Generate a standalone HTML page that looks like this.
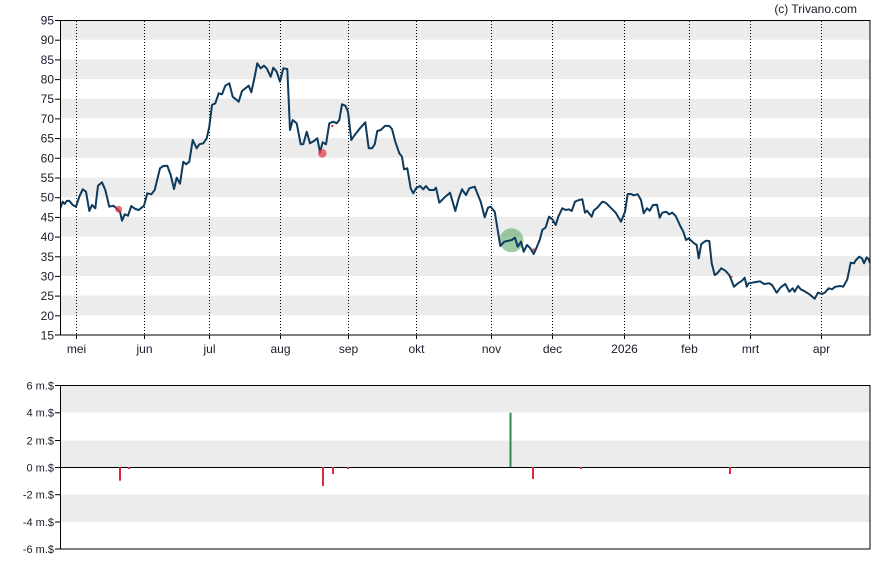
<!DOCTYPE html>
<html><head><meta charset="utf-8"><style>
html,body{margin:0;padding:0;background:#fff;}
svg{display:block;}
text{font-family:"Liberation Sans",Arial,sans-serif;fill:#1a1a2a;}
</style></head><body>
<svg width="888" height="565" viewBox="0 0 888 565" xmlns="http://www.w3.org/2000/svg">
<defs><clipPath id="pc"><rect x="60" y="20" width="810" height="315"/></clipPath></defs>
<text x="857" y="13" font-size="12" text-anchor="end">(c) Trivano.com</text>
<!-- main bands -->
<g fill="#ececec">
<rect x="60" y="20" width="810" height="19.7"/>
<rect x="60" y="59.4" width="810" height="19.7"/>
<rect x="60" y="98.75" width="810" height="19.7"/>
<rect x="60" y="138.1" width="810" height="19.7"/>
<rect x="60" y="177.5" width="810" height="19.7"/>
<rect x="60" y="216.9" width="810" height="19.7"/>
<rect x="60" y="256.25" width="810" height="19.7"/>
<rect x="60" y="295.6" width="810" height="19.7"/>
</g>
<!-- dotted month lines -->
<g stroke="#000" stroke-width="1" stroke-dasharray="1 2">
<line x1="76.5" y1="21" x2="76.5" y2="335"/>
<line x1="144.5" y1="21" x2="144.5" y2="335"/>
<line x1="209.5" y1="21" x2="209.5" y2="335"/>
<line x1="280.5" y1="21" x2="280.5" y2="335"/>
<line x1="348.5" y1="21" x2="348.5" y2="335"/>
<line x1="416.5" y1="21" x2="416.5" y2="335"/>
<line x1="491.5" y1="21" x2="491.5" y2="335"/>
<line x1="552.5" y1="21" x2="552.5" y2="335"/>
<line x1="624.5" y1="21" x2="624.5" y2="335"/>
<line x1="689.5" y1="21" x2="689.5" y2="335"/>
<line x1="750.5" y1="21" x2="750.5" y2="335"/>
<line x1="821.5" y1="21" x2="821.5" y2="335"/>
</g>
<!-- green circle -->
<circle cx="511.5" cy="240.3" r="12" fill="#3c9a4e" fill-opacity="0.5"/>
<!-- price line -->
<polyline clip-path="url(#pc)" fill="none" stroke="#0e3a5c" stroke-width="2" stroke-linejoin="round" points="60,209 62.7,201.7 64.7,204 66.7,201 69.3,200.7 72.7,205 76,206.7 79.3,196.7 82.7,189.3 86,191.7 89.3,211 92,205 95.3,208.3 98,185.7 102,182.3 105.3,190 109.3,206.7 113.3,205.7 117.3,209 120,211.7 122,220.7 124.7,214.3 128,215.7 131.3,206 135.3,209 138.7,210 144,205.7 147.3,193.3 151.3,194.3 154.7,190 160,168.3 163.3,166 167.3,165.7 170.7,175 174,189 176.7,177.7 180,183.7 183.3,161.7 186,164.3 189.3,161.7 192.7,140 196.7,148.3 199.3,144.3 203.3,143.3 206.7,138.3 209.3,126.7 212,105 215.3,103.3 218.7,93.3 222,94.3 225.3,85.7 229.3,83.3 232.7,96.7 238.7,101.7 242,91 248.7,85.7 251.3,92.3 254,80 257.3,63.3 260.7,68.3 264,65.7 266.7,68.3 270.7,76.7 273.3,67.7 276.7,71.7 280,81.7 283.3,68.3 287.3,69 290,130 292.7,120 296.7,123.3 300.7,144.3 303.3,144.3 306.7,131.7 310,143.3 314,141 317.3,138.3 320,152.3 322.7,142.3 326,144.3 329.3,123.3 333.3,121.7 336.7,123.3 339.3,120 342,104.3 345.3,105.7 348,111.7 351.3,140 354.7,135 360,128.3 365.3,122.3 368.7,148.3 372,148.3 374.7,144.3 377.3,131 380.7,130 385.3,125.7 389.3,126 392,129 395.3,141.7 399.3,153.3 402,156.7 404,169.3 407.3,168.3 410.7,188.3 413.3,193.3 416,188.3 420,186 423.3,189.3 426,186 429.3,190 434,190 436,187.7 439.3,202.7 445.3,196.7 450,192.7 455.3,211 458.7,198.3 462,189.3 466,195 469.3,188.3 474.7,186.7 480.7,201.7 484.7,217.3 488,207.7 490.7,206.7 494.7,211.7 500.3,246 504.3,241.7 511.7,240 515,237.7 517.7,246.7 521,241.7 523.7,251.7 527,245 530.3,248.3 533.7,254 536.3,248.3 539.7,240 542.3,230 545.7,227.3 549,216.7 552.3,219.3 555.7,225 558.3,216.7 562.3,208.3 565.7,210 569,209.3 571.7,211 575,201.7 579,200 582.3,199.3 585,212.7 587,210.7 591.7,216.7 593.7,210.7 597.7,207.3 602.3,201.7 605.7,202.7 610.3,207.3 615.7,212.7 621,221.7 625,211.7 627.7,194 631,194 633.7,195.3 637.7,194.3 641,200 643.7,213.3 647,208.3 649.7,210.7 653,205 657,204.7 659.7,217.7 662.3,212.7 666.3,211.7 669,214.3 672.3,212.7 675.7,216 680.3,226 683.3,231.7 686,240 688.7,238.3 693.3,242.7 696.7,245 698.7,258.3 701.3,244 706,240.7 709.3,241 711.7,263.3 714.7,275 717.3,273.3 721.3,268.3 725.3,270.7 729.3,275 734,286.7 738,283.3 742,280.7 744.7,277.7 746.7,286.7 748.7,283.3 752,282.7 756,282 760,281.3 764,284 769.3,283.3 772,285 776.7,292.7 780.7,287.3 785.3,284 789.3,291.7 792.7,288.3 794.7,291.7 798,286 800.7,289.3 804.7,291.3 810,294.7 814.7,298.7 818,292.7 822,294 824.7,292.7 828.7,288.3 832,289.3 835.3,286.7 840,286 843.3,286.7 847.3,279.3 850.7,262.7 854,263.3 856,260 859.3,256.7 862,258.3 864,263.3 866.7,257.3 868.7,259.3 870,263"/>
<!-- red markers -->
<circle cx="118.7" cy="209.3" r="3.5" fill="#e8323f" fill-opacity="0.7"/>
<circle cx="322.3" cy="153.3" r="4.3" fill="#e8323f" fill-opacity="0.7"/>
<circle cx="332.3" cy="126" r="1.2" fill="#e8323f"/>
<circle cx="533.7" cy="249.5" r="1.2" fill="#e8323f"/>
<circle cx="731.7" cy="276.7" r="1" fill="#e8323f"/>
<!-- main frame -->
<rect x="60.5" y="20.5" width="809.5" height="314.5" fill="none" stroke="#000" stroke-width="1"/>
<!-- y ticks & labels -->
<g stroke="#000" stroke-width="1">
<line x1="55" y1="20.5" x2="60" y2="20.5"/><line x1="55" y1="40.2" x2="60" y2="40.2"/><line x1="55" y1="59.9" x2="60" y2="59.9"/><line x1="55" y1="79.6" x2="60" y2="79.6"/><line x1="55" y1="99.2" x2="60" y2="99.2"/><line x1="55" y1="118.9" x2="60" y2="118.9"/><line x1="55" y1="138.6" x2="60" y2="138.6"/><line x1="55" y1="158.3" x2="60" y2="158.3"/><line x1="55" y1="178" x2="60" y2="178"/><line x1="55" y1="197.7" x2="60" y2="197.7"/><line x1="55" y1="217.4" x2="60" y2="217.4"/><line x1="55" y1="237.1" x2="60" y2="237.1"/><line x1="55" y1="256.8" x2="60" y2="256.8"/><line x1="55" y1="276.4" x2="60" y2="276.4"/><line x1="55" y1="296.1" x2="60" y2="296.1"/><line x1="55" y1="315.8" x2="60" y2="315.8"/><line x1="55" y1="335" x2="60" y2="335"/>
</g>
<g font-size="12" text-anchor="end">
<text x="54" y="24.5">95</text><text x="54" y="44.2">90</text><text x="54" y="63.9">85</text><text x="54" y="83.6">80</text><text x="54" y="103.2">75</text><text x="54" y="122.9">70</text><text x="54" y="142.6">65</text><text x="54" y="162.3">60</text><text x="54" y="182">55</text><text x="54" y="201.7">50</text><text x="54" y="221.4">45</text><text x="54" y="241.1">40</text><text x="54" y="260.8">35</text><text x="54" y="280.4">30</text><text x="54" y="300.1">25</text><text x="54" y="319.8">20</text><text x="54" y="339.5">15</text>
</g>
<!-- x ticks & labels -->
<g stroke="#000" stroke-width="1">
<line x1="76.5" y1="335" x2="76.5" y2="339"/><line x1="144.5" y1="335" x2="144.5" y2="339"/><line x1="209.5" y1="335" x2="209.5" y2="339"/><line x1="280.5" y1="335" x2="280.5" y2="339"/><line x1="348.5" y1="335" x2="348.5" y2="339"/><line x1="416.5" y1="335" x2="416.5" y2="339"/><line x1="491.5" y1="335" x2="491.5" y2="339"/><line x1="552.5" y1="335" x2="552.5" y2="339"/><line x1="624.5" y1="335" x2="624.5" y2="339"/><line x1="689.5" y1="335" x2="689.5" y2="339"/><line x1="750.5" y1="335" x2="750.5" y2="339"/><line x1="821.5" y1="335" x2="821.5" y2="339"/>
</g>
<g font-size="12" text-anchor="middle">
<text x="76.5" y="353">mei</text><text x="144.5" y="353">jun</text><text x="209.5" y="353">jul</text><text x="280.5" y="353">aug</text><text x="348.5" y="353">sep</text><text x="416.5" y="353">okt</text><text x="491.5" y="353">nov</text><text x="552.5" y="353">dec</text><text x="624.5" y="353">2026</text><text x="689.5" y="353">feb</text><text x="750.5" y="353">mrt</text><text x="821.5" y="353">apr</text>
</g>
<!-- lower chart -->
<g fill="#ececec">
<rect x="60" y="385" width="810" height="27.3"/>
<rect x="60" y="440.5" width="810" height="26.5"/>
<rect x="60" y="494.7" width="810" height="27.3"/>
</g>
<line x1="60" y1="467.5" x2="870" y2="467.5" stroke="#000" stroke-width="1"/>
<g stroke-width="2">
<line x1="510.5" y1="412.7" x2="510.5" y2="467" stroke="#2e8b4a"/>
<line x1="120" y1="467" x2="120" y2="480.7" stroke="#e0283c"/>
<line x1="129" y1="467" x2="129" y2="469" stroke="#e0283c"/>
<line x1="323" y1="467" x2="323" y2="486" stroke="#e0283c"/>
<line x1="333" y1="467" x2="333" y2="474" stroke="#e0283c"/>
<line x1="348" y1="467" x2="348" y2="469" stroke="#e0283c"/>
<line x1="533" y1="467" x2="533" y2="479" stroke="#e0283c"/>
<line x1="581" y1="467" x2="581" y2="469" stroke="#e0283c"/>
<line x1="730" y1="467" x2="730" y2="474" stroke="#e0283c"/>
</g>
<rect x="60.5" y="385.5" width="809.5" height="163.5" fill="none" stroke="#000" stroke-width="1"/>
<g stroke="#000" stroke-width="1">
<line x1="55" y1="385.5" x2="60" y2="385.5"/><line x1="55" y1="412.8" x2="60" y2="412.8"/><line x1="55" y1="440.5" x2="60" y2="440.5"/><line x1="55" y1="467.5" x2="60" y2="467.5"/><line x1="55" y1="494.7" x2="60" y2="494.7"/><line x1="55" y1="522" x2="60" y2="522"/><line x1="55" y1="549" x2="60" y2="549"/>
</g>
<g font-size="11" text-anchor="end">
<text x="54" y="389.5">6 m.$</text><text x="54" y="416.5">4 m.$</text><text x="54" y="444.5">2 m.$</text><text x="54" y="471.5">0 m.$</text><text x="54" y="498.5">-2 m.$</text><text x="54" y="526">-4 m.$</text><text x="54" y="553">-6 m.$</text>
</g>
</svg>
</body></html>
